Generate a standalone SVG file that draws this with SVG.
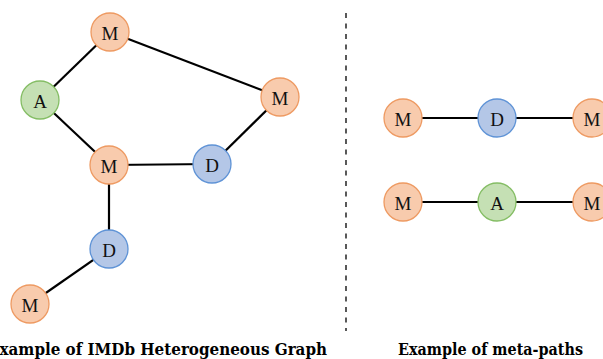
<svg xmlns="http://www.w3.org/2000/svg" width="603" height="359" viewBox="0 0 603 359">
<style>
.e{stroke:#000;stroke-width:2.2;fill:none}
.m{fill:#F8CBAD;stroke:#EE9A62;stroke-width:1.3}
.a{fill:#C5E0B4;stroke:#84BD64;stroke-width:1.3}
.d{fill:#B4C7E7;stroke:#5F93D6;stroke-width:1.3}
.t{font-family:"Liberation Serif","DejaVu Serif",serif;font-size:19px;fill:#111;text-anchor:middle;dominant-baseline:central}
.c{font-family:"DejaVu Serif","Liberation Serif",serif;font-size:16px;font-weight:bold;fill:#000}
</style>
<rect width="603" height="359" fill="#fff"/>
<g id="connectors">
<line class="e" x1="110" y1="32" x2="280" y2="97"/>
<line class="e" x1="110" y1="32" x2="40" y2="100"/>
<line class="e" x1="40" y1="100" x2="109" y2="165"/>
<line class="e" x1="280" y1="97" x2="212" y2="164"/>
<line class="e" x1="109" y1="165" x2="212" y2="164"/>
<line class="e" x1="109" y1="165" x2="109" y2="249"/>
<line class="e" x1="109" y1="249" x2="30" y2="304"/>
<line class="e" x1="403" y1="118" x2="592" y2="118"/>
<line class="e" x1="403" y1="202" x2="592" y2="202"/>
</g>
<line id="divider" x1="346" y1="13" x2="346" y2="331" stroke="#000" stroke-width="1.3" stroke-dasharray="5,5.5"/>
<g id="n1"><circle class="m" cx="110" cy="32" r="19"/><text class="t" x="110" y="33">M</text></g>
<g id="n2"><circle class="a" cx="40" cy="100" r="19"/><text class="t" x="40" y="101">A</text></g>
<g id="n3"><circle class="m" cx="280" cy="97" r="19"/><text class="t" x="280" y="98">M</text></g>
<g id="n4"><circle class="m" cx="109" cy="165" r="19"/><text class="t" x="109" y="166">M</text></g>
<g id="n5"><circle class="d" cx="212" cy="164" r="19"/><text class="t" x="212" y="165">D</text></g>
<g id="n6"><circle class="d" cx="109" cy="249" r="19"/><text class="t" x="109" y="250">D</text></g>
<g id="n7"><circle class="m" cx="30" cy="304" r="19"/><text class="t" x="30" y="305">M</text></g>
<g id="p1"><circle class="m" cx="403" cy="118" r="19"/><text class="t" x="403" y="119">M</text></g>
<g id="p2"><circle class="d" cx="497" cy="118" r="19"/><text class="t" x="497" y="119">D</text></g>
<g id="p3"><circle class="m" cx="592" cy="118" r="19"/><text class="t" x="592" y="119">M</text></g>
<g id="p4"><circle class="m" cx="403" cy="202" r="19"/><text class="t" x="403" y="203">M</text></g>
<g id="p5"><circle class="a" cx="497" cy="202" r="19"/><text class="t" x="497" y="203">A</text></g>
<g id="p6"><circle class="m" cx="592" cy="202" r="19"/><text class="t" x="592" y="203">M</text></g>
<text class="c" x="-12" y="355" textLength="339" lengthAdjust="spacingAndGlyphs">Example of IMDb Heterogeneous Graph</text>
<text class="c" x="398" y="355" textLength="185" lengthAdjust="spacingAndGlyphs">Example of meta-paths</text>
</svg>
